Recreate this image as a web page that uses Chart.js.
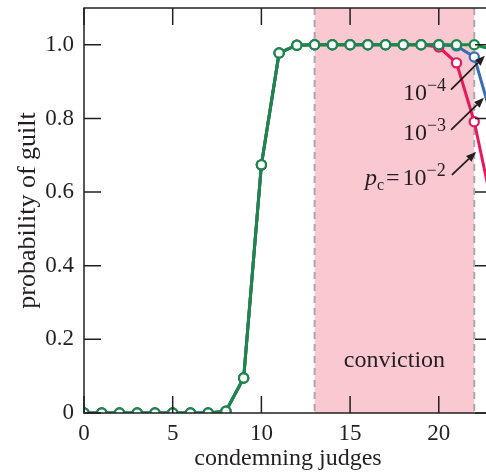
<!DOCTYPE html>
<html>
<head>
<meta charset="utf-8">
<script src="https://cdn.jsdelivr.net/npm/chart.js@4.4.1/dist/chart.umd.min.js"></script>
<style>
  html, body { margin: 0; padding: 0; overflow: hidden; background: #fff; }
  #wrap { width: 494px; height: 474px; }
  canvas { display: block; }
</style>
</head>
<body>
<div id="wrap"><canvas id="chart" width="494" height="474"></canvas></div>
<script>
// Number of condemning judges (out of 23)
const judges = [0,1,2,3,4,5,6,7,8,9,10,11,12,13,14,15,16,17,18,19,20,21,22,23];

// Probability of guilt for three values of the failure probability p_c
const guiltPc4 = [0,0,0,0,0,0,0,0,0.005,0.095,0.674,0.978,0.999,1,1,1,1,1,1,1,1,1,1.0,0.988];
const guiltPc3 = [0,0,0,0,0,0,0,0,0.005,0.095,0.674,0.978,0.999,1,1,1,1,1,1,1,1,0.997,0.967,0.80];
const guiltPc2 = [0,0,0,0,0,0,0,0,0.005,0.095,0.674,0.978,0.999,1,1,1,1,1,1,1,0.994,0.951,0.791,0.565];

// Axis ticks and labels
const xTicks = [0,5,10,15,20];
const xTickLabels = ['0','5','10','15','20'];
const yTicks = [0,0.2,0.4,0.6,0.8,1.0];
const yTickLabels = ['0','0.2','0.4','0.6','0.8','1.0'];

// Range of judges counts leading to a conviction
const convictionRange = [13, 22];
const convictionLabel = 'conviction';

// Curve labels: base and exponent
const pcExponents = ['−4', '−3', '−2'];

const SERIF = '"Liberation Serif", "Times New Roman", serif';
const INK = '#231f20';
const GREEN = '#178a48';
const BLUE = '#3a6cb4';
const RED = '#e8185c';

// Label placement (data coordinates) and arrows pointing at the curves
const noteLayout = [
  { x: 17.98, y: 0.850, arrow: [20.69, 0.878, 22.60, 0.970] },
  { x: 17.98, y: 0.742, arrow: [20.69, 0.769, 22.55, 0.856] },
  { x: 15.84, y: 0.620, arrow: [20.74, 0.647, 22.10, 0.709] }
];

const convictionBand = {
  id: 'convictionBand',
  beforeDatasetsDraw(chart) {
    const { ctx, chartArea: a, scales: { x } } = chart;
    const x0 = x.getPixelForValue(convictionRange[0]);
    const x1 = x.getPixelForValue(convictionRange[1]);
    ctx.save();
    ctx.fillStyle = '#f9c8d1';
    ctx.fillRect(x0, a.top, x1 - x0, a.bottom - a.top);
    ctx.strokeStyle = '#a9a9a9';
    ctx.lineWidth = 2;
    ctx.setLineDash([7, 5]);
    [x0, x1].forEach(px => {
      ctx.beginPath();
      ctx.moveTo(px, a.top);
      ctx.lineTo(px, a.bottom);
      ctx.stroke();
    });
    ctx.restore();
  }
};

function arrow(ctx, x0, y0, x1, y1) {
  const ang = Math.atan2(y1 - y0, x1 - x0);
  const head = 10, half = 4;
  const bx = x1 - head * Math.cos(ang), by = y1 - head * Math.sin(ang);
  ctx.beginPath();
  ctx.moveTo(x0, y0);
  ctx.lineTo(bx, by);
  ctx.stroke();
  ctx.beginPath();
  ctx.moveTo(x1, y1);
  ctx.lineTo(bx + half * Math.sin(ang), by - half * Math.cos(ang));
  ctx.lineTo(bx - half * Math.sin(ang), by + half * Math.cos(ang));
  ctx.closePath();
  ctx.fill();
}

const frameAndNotes = {
  id: 'frameAndNotes',
  afterDatasetsDraw(chart) {
    const { ctx, chartArea: a, scales: { x, y } } = chart;
    ctx.save();
    // inward tick marks on all four sides
    ctx.strokeStyle = INK;
    ctx.lineWidth = 1.5;
    const tl = 17;
    xTicks.forEach(v => {
      const px = x.getPixelForValue(v);
      ctx.beginPath();
      ctx.moveTo(px, a.bottom); ctx.lineTo(px, a.bottom - tl);
      ctx.moveTo(px, a.top); ctx.lineTo(px, a.top + tl);
      ctx.stroke();
    });
    yTicks.forEach(v => {
      const py = y.getPixelForValue(v);
      ctx.beginPath();
      ctx.moveTo(a.left, py); ctx.lineTo(a.left + tl, py);
      ctx.moveTo(a.right, py); ctx.lineTo(a.right - tl, py);
      ctx.stroke();
    });
    ctx.strokeRect(a.left, a.top, a.right - a.left, a.bottom - a.top);

    // conviction label
    ctx.fillStyle = INK;
    ctx.textBaseline = 'alphabetic';
    ctx.textAlign = 'center';
    ctx.font = '24px ' + SERIF;
    ctx.fillText(convictionLabel,
      x.getPixelForValue((convictionRange[0] + convictionRange[1]) / 2),
      y.getPixelForValue(0.125));

    // p_c labels
    ctx.textAlign = 'left';
    noteLayout.forEach((n, i) => {
      let px = x.getPixelForValue(n.x);
      const py = y.getPixelForValue(n.y);
      if (i === 2) {
        ctx.font = 'italic 24px ' + SERIF;
        ctx.fillText('p', px, py);
        px += ctx.measureText('p').width;
        ctx.font = '16px ' + SERIF;
        ctx.fillText('c', px, py + 5);
        px += ctx.measureText('c').width + 2;
        ctx.font = '24px ' + SERIF;
        ctx.fillText('=', px, py);
        px += ctx.measureText('=').width + 3;
      }
      ctx.font = '24px ' + SERIF;
      ctx.fillText('10', px, py);
      px += ctx.measureText('10').width;
      ctx.font = '18px ' + SERIF;
      ctx.fillText(pcExponents[i], px, py - 9);

      const [ax0, ay0, ax1, ay1] = n.arrow;
      ctx.strokeStyle = INK;
      ctx.lineWidth = 1.8;
      arrow(ctx, x.getPixelForValue(ax0), y.getPixelForValue(ay0),
                 x.getPixelForValue(ax1), y.getPixelForValue(ay1));
    });
    ctx.restore();
  }
};

function series(values, color) {
  return {
    data: judges.map((j, i) => ({ x: j, y: values[i] })),
    borderColor: color,
    borderWidth: 3,
    pointRadius: 4.6,
    pointBorderWidth: 2.2,
    pointBackgroundColor: '#ffffff',
    pointBorderColor: color,
    tension: 0,
    clip: 0
  };
}

// keep the plot box fixed: no extra room for overhanging tick labels
function noOverhang(scale) {
  scale.paddingTop = 0;
  scale.paddingBottom = 0;
  scale.paddingLeft = 0;
  scale.paddingRight = 0;
}

new Chart(document.getElementById('chart'), {
  type: 'line',
  data: {
    datasets: [
      series(guiltPc4, GREEN),
      series(guiltPc3, BLUE),
      series(guiltPc2, RED)
    ]
  },
  options: {
    responsive: false,
    animation: false,
    layout: { autoPadding: false, padding: { top: 8, right: 2, bottom: 0, left: 0 } },
    plugins: { legend: { display: false }, tooltip: { enabled: false } },
    scales: {
      x: {
        type: 'linear',
        min: 0, max: 23,
        grid: { display: false, drawTicks: false },
        border: { display: false },
        afterBuildTicks(scale) { scale.ticks = xTicks.map(v => ({ value: v })); },
        afterFit(scale) { scale.height = 61; noOverhang(scale); },
        ticks: {
          padding: 7,
          color: INK,
          font: { family: SERIF, size: 23 },
          maxRotation: 0,
          callback: (v) => xTickLabels[xTicks.indexOf(v)]
        },
        title: {
          display: true,
          text: 'condemning judges',
          color: INK,
          font: { family: SERIF, size: 24 },
          padding: { top: 0, bottom: 1 }
        }
      },
      y: {
        min: 0, max: 1.1,
        grid: { display: false, drawTicks: false },
        border: { display: false },
        afterBuildTicks(scale) { scale.ticks = yTicks.map(v => ({ value: v })); },
        afterFit(scale) { scale.width = 84; noOverhang(scale); },
        ticks: {
          padding: 10,
          color: INK,
          font: { family: SERIF, size: 23 },
          callback: (v) => yTickLabels[yTicks.indexOf(v)]
        },
        title: {
          display: true,
          text: 'probability of guilt',
          color: INK,
          font: { family: SERIF, size: 26 },
          padding: { top: 13, bottom: 0 }
        }
      }
    }
  },
  plugins: [convictionBand, frameAndNotes]
});
</script>
</body>
</html>
